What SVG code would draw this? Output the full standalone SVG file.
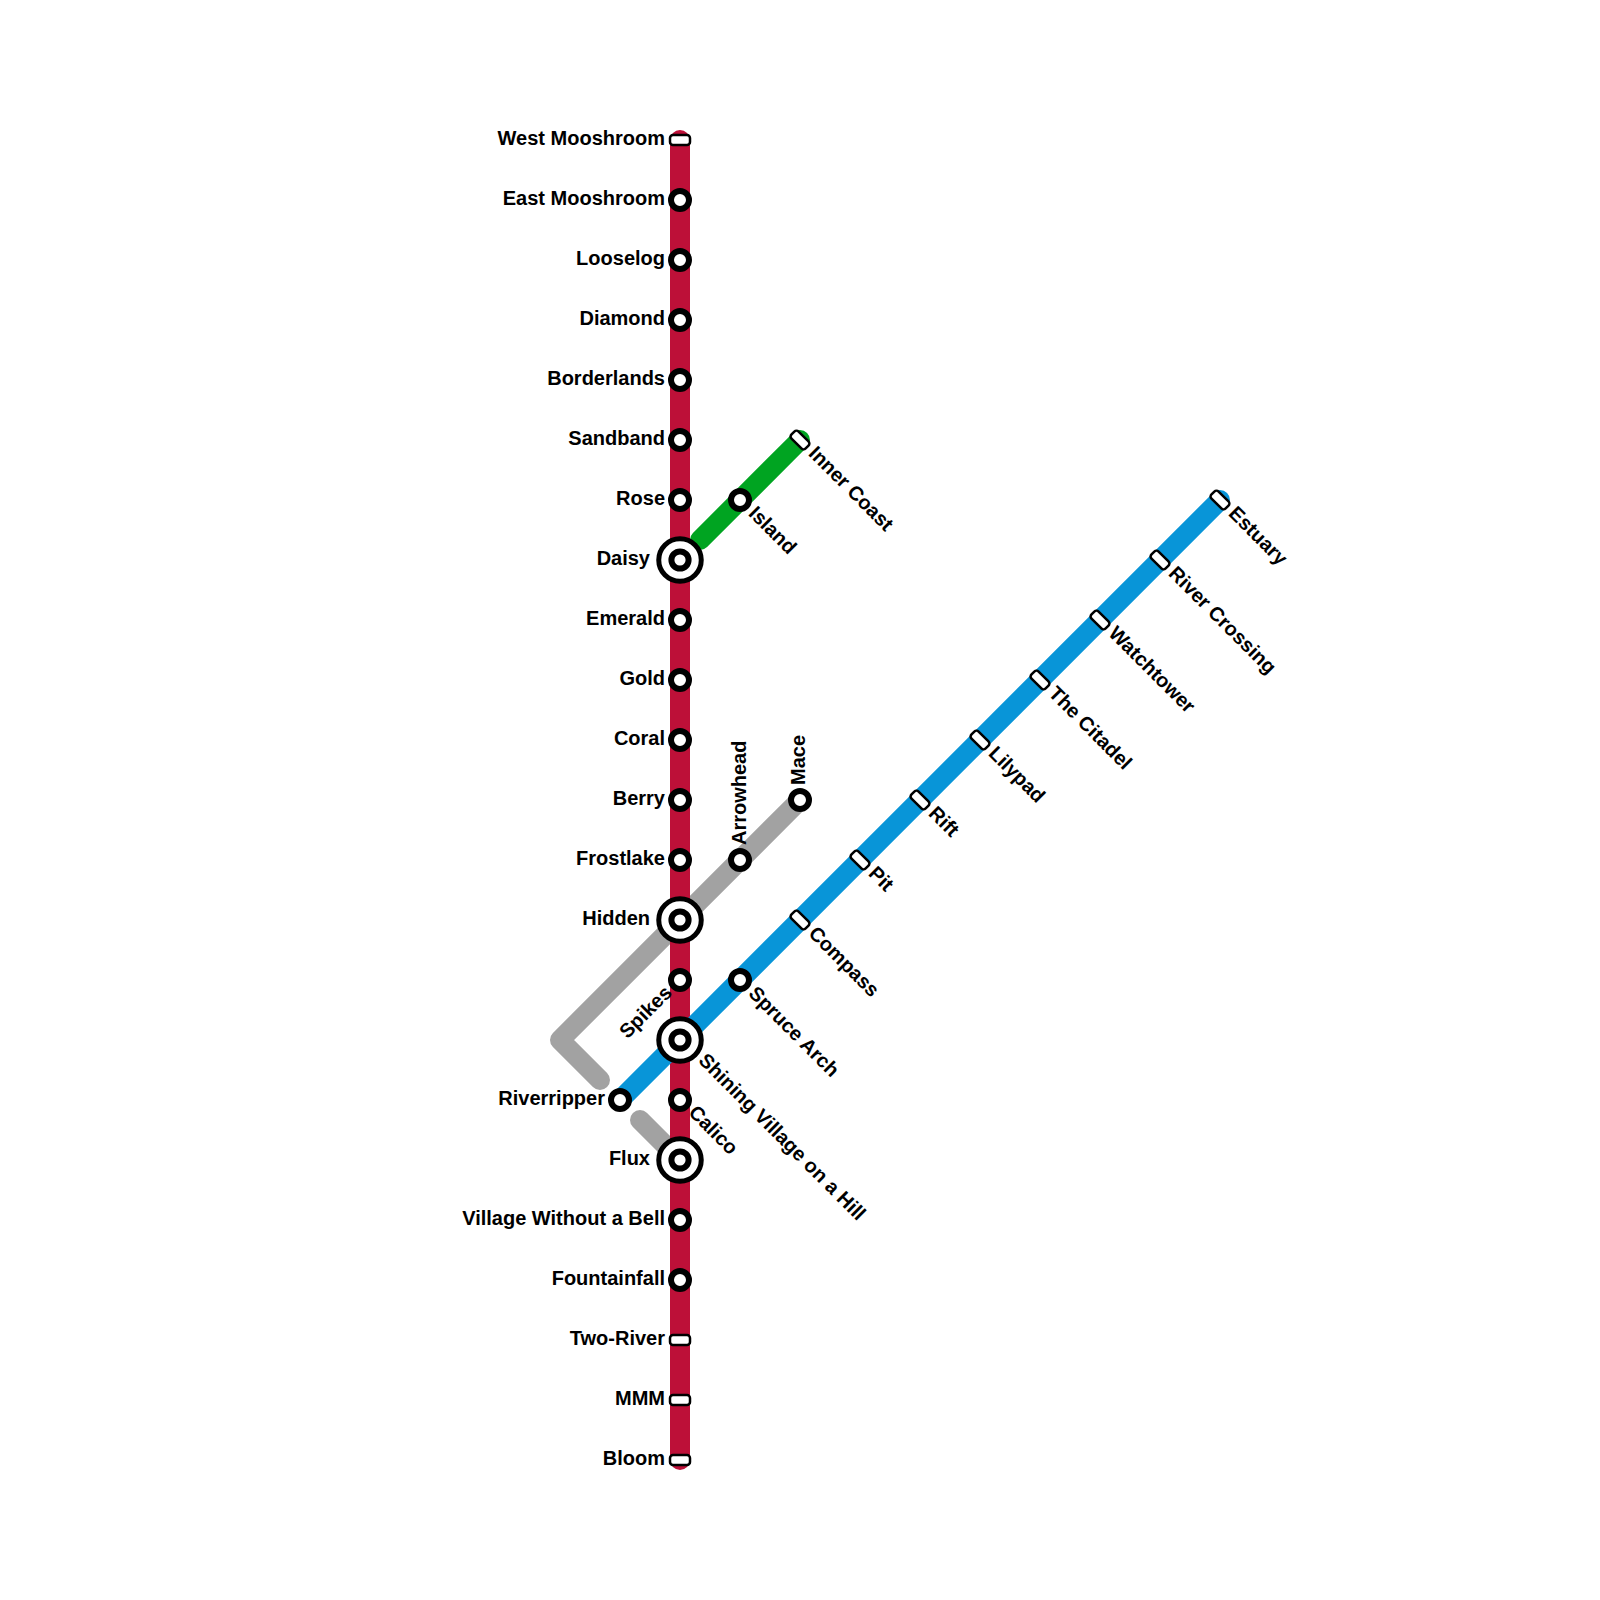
<svg xmlns="http://www.w3.org/2000/svg" width="1600" height="1600" viewBox="0 0 1600 1600">
<style>
.l{fill:none;stroke-width:20;stroke-linecap:round;stroke-linejoin:round}
.s{fill:#fff;stroke:#000;stroke-width:6}
.o{fill:#fff;stroke:#000;stroke-width:5}
.b{fill:#fff;stroke:#000;stroke-width:2.5}
text{font-family:"Liberation Sans",Arial,sans-serif;font-weight:700;font-size:20px;fill:#000}
.e{text-anchor:end}
</style>
<defs>
<circle id="st" class="s" r="9"/>
<rect id="br" class="b" x="-10" y="-5" width="20" height="10" rx="3"/>
<g id="ix"><circle class="o" r="21.25"/><circle class="s" r="8.6"/></g>
</defs>
<rect width="1600" height="1600" fill="#fff"/>
<g id="connectors">
<path class="l" stroke="#a2a2a2" d="M800 800L560 1040L600 1080"/>
<path class="l" stroke="#a2a2a2" d="M640 1120L680 1160"/>
<path class="l" stroke="#00a421" d="M800 440L700 540"/>
<path class="l" stroke="#bd1038" d="M680 140V1460"/>
<path class="l" stroke="#0895d8" d="M1220 500L620 1100"/>
</g>
<g id="n-west-mooshroom"><use href="#br" x="680" y="140"/><text class="e" x="665" y="145">West Mooshroom</text></g>
<g id="n-east-mooshroom"><use href="#st" x="680" y="200"/><text class="e" x="665" y="205">East Mooshroom</text></g>
<g id="n-looselog"><use href="#st" x="680" y="260"/><text class="e" x="665" y="265">Looselog</text></g>
<g id="n-diamond"><use href="#st" x="680" y="320"/><text class="e" x="665" y="325">Diamond</text></g>
<g id="n-borderlands"><use href="#st" x="680" y="380"/><text class="e" x="665" y="385">Borderlands</text></g>
<g id="n-sandband"><use href="#st" x="680" y="440"/><text class="e" x="665" y="445">Sandband</text></g>
<g id="n-rose"><use href="#st" x="680" y="500"/><text class="e" x="665" y="505">Rose</text></g>
<g id="n-daisy"><use href="#ix" x="680" y="560"/><text class="e" x="650" y="565">Daisy</text></g>
<g id="n-emerald"><use href="#st" x="680" y="620"/><text class="e" x="665" y="625">Emerald</text></g>
<g id="n-gold"><use href="#st" x="680" y="680"/><text class="e" x="665" y="685">Gold</text></g>
<g id="n-coral"><use href="#st" x="680" y="740"/><text class="e" x="665" y="745">Coral</text></g>
<g id="n-berry"><use href="#st" x="680" y="800"/><text class="e" x="665" y="805">Berry</text></g>
<g id="n-frostlake"><use href="#st" x="680" y="860"/><text class="e" x="665" y="865">Frostlake</text></g>
<g id="n-hidden"><use href="#ix" x="680" y="920"/><text class="e" x="650" y="925">Hidden</text></g>
<g id="n-spikes"><use href="#st" x="680" y="980"/><text class="e" transform="translate(673 994) rotate(-45)">Spikes</text></g>
<g id="n-shining"><use href="#ix" x="680" y="1040"/><text transform="translate(697.5 1061.5) rotate(45)">Shining Village on a Hill</text></g>
<g id="n-calico"><use href="#st" x="680" y="1100"/><text transform="translate(687.5 1113.5) rotate(45)">Calico</text></g>
<g id="n-flux"><use href="#ix" x="680" y="1160"/><text class="e" x="650" y="1165">Flux</text></g>
<g id="n-village"><use href="#st" x="680" y="1220"/><text class="e" x="665" y="1225">Village Without a Bell</text></g>
<g id="n-fountainfall"><use href="#st" x="680" y="1280"/><text class="e" x="665" y="1285">Fountainfall</text></g>
<g id="n-two-river"><use href="#br" x="680" y="1340"/><text class="e" x="665" y="1345">Two-River</text></g>
<g id="n-mmm"><use href="#br" x="680" y="1400"/><text class="e" x="665" y="1405">MMM</text></g>
<g id="n-bloom"><use href="#br" x="680" y="1460"/><text class="e" x="665" y="1465">Bloom</text></g>
<g id="n-inner-coast"><use href="#br" transform="translate(800 440) rotate(45)"/><text transform="translate(807.5 454.5) rotate(45)">Inner Coast</text></g>
<g id="n-island"><use href="#st" x="740" y="500"/><text transform="translate(747.5 514.5) rotate(45)">Island</text></g>
<g id="n-arrowhead"><use href="#st" x="740" y="860"/><text transform="translate(746 845) rotate(-90)">Arrowhead</text></g>
<g id="n-mace"><use href="#st" x="800" y="800"/><text transform="translate(805 785) rotate(-90)">Mace</text></g>
<g id="n-riverripper"><use href="#st" x="620" y="1100"/><text class="e" x="605" y="1105">Riverripper</text></g>
<g id="n-spruce-arch"><use href="#st" x="740" y="980"/><text transform="translate(747.5 994.5) rotate(45)">Spruce Arch</text></g>
<g id="n-compass"><use href="#br" transform="translate(800 920) rotate(45)"/><text transform="translate(807.5 934.5) rotate(45)">Compass</text></g>
<g id="n-pit"><use href="#br" transform="translate(860 860) rotate(45)"/><text transform="translate(867.5 874.5) rotate(45)">Pit</text></g>
<g id="n-rift"><use href="#br" transform="translate(920 800) rotate(45)"/><text transform="translate(927.5 814.5) rotate(45)">Rift</text></g>
<g id="n-lilypad"><use href="#br" transform="translate(980 740) rotate(45)"/><text transform="translate(987.5 754.5) rotate(45)">Lilypad</text></g>
<g id="n-citadel"><use href="#br" transform="translate(1040 680) rotate(45)"/><text transform="translate(1047.5 694.5) rotate(45)">The Citadel</text></g>
<g id="n-watchtower"><use href="#br" transform="translate(1100 620) rotate(45)"/><text transform="translate(1107.5 634.5) rotate(45)">Watchtower</text></g>
<g id="n-river-crossing"><use href="#br" transform="translate(1160 560) rotate(45)"/><text transform="translate(1167.5 574.5) rotate(45)">River Crossing</text></g>
<g id="n-estuary"><use href="#br" transform="translate(1220 500) rotate(45)"/><text transform="translate(1227.5 514.5) rotate(45)">Estuary</text></g>
</svg>
